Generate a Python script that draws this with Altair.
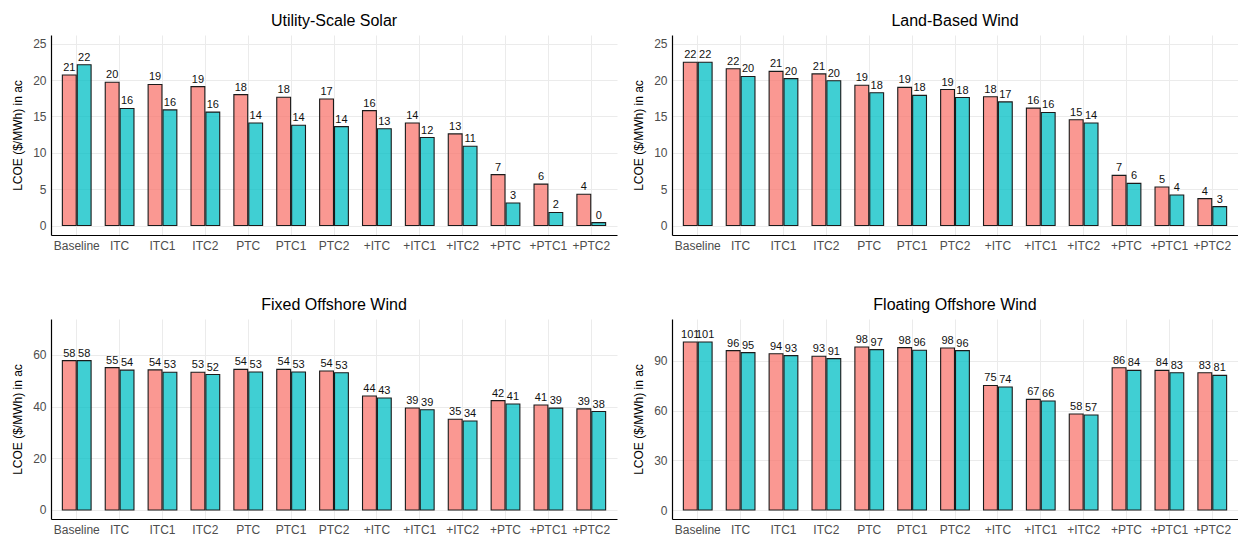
import altair as alt
import pandas as pd

categories = ["Baseline", "ITC", "ITC1", "ITC2", "PTC", "PTC1", "PTC2",
              "+ITC", "+ITC1", "+ITC2", "+PTC", "+PTC1", "+PTC2"]
series_names = ["Series 1", "Series 2"]
series_colors = ["#F8766D", "#00BFC4"]

solar_s1 = [20.7, 19.7, 19.4, 19.1, 18.0, 17.65, 17.4, 15.8, 14.1, 12.6, 7.0, 5.7, 4.3]
solar_s2 = [22.1, 16.1, 15.9, 15.6, 14.1, 13.8, 13.6, 13.3, 12.1, 10.9, 3.1, 1.8, 0.4]
land_s1 = [22.45, 21.55, 21.2, 20.85, 19.3, 19.0, 18.7, 17.7, 16.15, 14.55, 6.9, 5.3, 3.7]
land_s2 = [22.45, 20.5, 20.2, 19.9, 18.25, 17.9, 17.6, 17.0, 15.55, 14.1, 5.8, 4.2, 2.6]
fixed_s1 = [57.8, 55.1, 54.2, 53.3, 54.4, 54.4, 53.8, 44.1, 39.45, 35.1, 42.3, 40.6, 39.1]
fixed_s2 = [57.8, 54.1, 53.3, 52.4, 53.4, 53.4, 53.1, 43.3, 38.8, 34.4, 41.0, 39.4, 38.1]
float_s1 = [101.4, 96.2, 94.3, 92.8, 98.4, 98.0, 97.8, 75.2, 66.8, 58.0, 85.9, 84.3, 82.9]
float_s2 = [101.4, 95.0, 93.2, 91.4, 96.8, 96.4, 96.2, 74.3, 65.8, 57.4, 84.3, 82.9, 81.3]

FONT = "Liberation Sans"
W, H = 566, 200


def panel(title, s1, s2, domain, ticks):
    rows = []
    for name, vals in zip(series_names, [s1, s2]):
        for c, v in zip(categories, vals):
            rows.append({"cat": c, "series": name, "value": v, "label": f"{v:.0f}"})
    df = pd.DataFrame(rows)
    base = alt.Chart(df).encode(
        x=alt.X("cat:N", sort=categories,
                scale=alt.Scale(paddingInner=0.33, paddingOuter=0.265),
                axis=alt.Axis(title=None, labelAngle=0, ticks=False, labelPadding=5,
                              bandPosition=0.5, grid=True, gridColor="#EBEBEB",
                              labelOverlap=False, labelFontSize=12, labelColor="#4D4D4D",
                              domainColor="#000000", domainWidth=1.2, labelFont=FONT)),
        xOffset=alt.XOffset("series:N", sort=series_names,
                            scale=alt.Scale(paddingInner=0.07)),
        y=alt.Y("value:Q",
                scale=alt.Scale(domain=domain, nice=False, zero=False),
                axis=alt.Axis(title="LCOE ($/MWh) in ac", values=ticks, ticks=False,
                              labelOverlap=False,
                              labelPadding=5, grid=True, gridColor="#EBEBEB",
                              labelFontSize=12, labelColor="#4D4D4D", labelFont=FONT,
                              titleFont=FONT, titleFontSize=12, titleFontWeight="normal",
                              titleColor="#000000", titlePadding=8,
                              domainColor="#000000", domainWidth=1.2)),
    )
    bars = base.mark_bar(fillOpacity=0.75, stroke="#1a1a1a", strokeWidth=1.1).encode(
        y2=alt.datum(0),
        color=alt.Color("series:N", sort=series_names,
                        scale=alt.Scale(domain=series_names, range=series_colors),
                        legend=None),
    )
    text = base.mark_text(baseline="bottom", dy=-2, fontSize=11, font=FONT,
                          color="#111111").encode(
        text="label:N",
    )
    return alt.layer(bars, text).properties(
        width=W, height=H,
        title=alt.TitleParams(title, fontSize=16, fontWeight="normal", font=FONT,
                              color="#000000", anchor="middle", offset=6),
    )


p1 = panel("Utility-Scale Solar", solar_s1, solar_s2, [-1.3, 26.2], [0, 5, 10, 15, 20, 25])
p2 = panel("Land-Based Wind", land_s1, land_s2, [-1.3, 26.2], [0, 5, 10, 15, 20, 25])
p3 = panel("Fixed Offshore Wind", fixed_s1, fixed_s2, [-3.5, 73.9], [0, 20, 40, 60])
p4 = panel("Floating Offshore Wind", float_s1, float_s2, [-5.4, 115.3], [0, 30, 60, 90])

chart = alt.vconcat(
    alt.hconcat(p1, p2, spacing=15),
    alt.hconcat(p3, p4, spacing=15),
    spacing=46,
).properties(
    padding={"left": 3, "top": 5, "right": 0, "bottom": 0},
    background="white",
).configure_view(strokeWidth=0)

chart.save("out.html", embed_options={"renderer": "svg", "actions": False})
